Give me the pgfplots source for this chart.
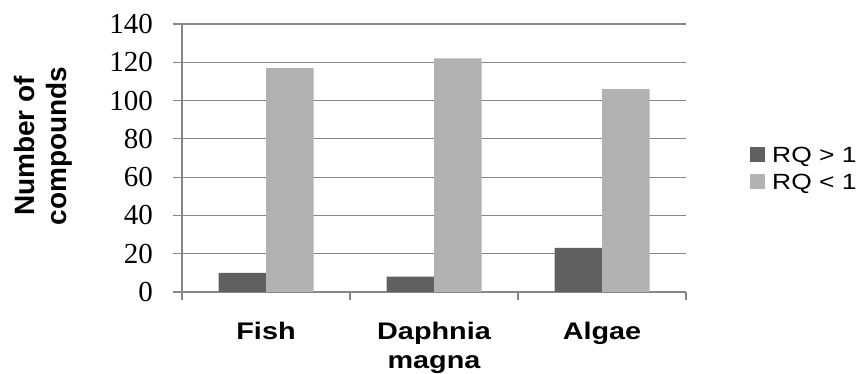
\documentclass[border=0pt]{standalone}
\usepackage{fontspec}
\setmainfont{Liberation Serif}
\newfontfamily\sansx[FakeStretch=1.2]{Liberation Sans}
\newfontfamily\sanslab{Liberation Sans}
\usepackage{pgfplots}
\pgfplotsset{compat=1.18}
\definecolor{darkbar}{HTML}{606060}
\definecolor{lightbar}{HTML}{B2B2B2}
\definecolor{gridc}{HTML}{868686}
\begin{document}
\begin{tikzpicture}
\path[use as bounding box] (0,0) rectangle (864pt,374pt);
\begin{axis}[
  at={(182pt,82pt)}, anchor=south west,
  scale only axis, width=504pt, height=268pt,
  ymin=0, ymax=140, ytick={0,20,...,140},
  xmin=-0.5, xmax=2.5, xtick={0,1,2},
  xticklabels={Fish,{Daphnia\\magna},Algae},
  minor xtick={-0.5,0.5,1.5,2.5},
  major x tick style={draw=none},
  tick align=outside,
  major tick length=9pt, minor tick length=8pt,
  tick style={gridc, line width=1.2pt},
  axis x line*=bottom, axis y line*=left,
  axis line style={gridc, line width=1.2pt, -},
  ymajorgrids, major grid style={gridc, line width=1.2pt},
  /pgf/number format/assume math mode=true,
  yticklabel style={font=\fontsize{29}{29}\selectfont, inner sep=0pt, xshift=-20pt},
  xticklabel style={font=\sansx\bfseries\fontsize{24}{29}\selectfont, align=center, anchor=north, inner sep=0pt, yshift=-21pt},
  ylabel={Number of\\[3pt]compounds},
  ylabel style={font=\sanslab\bfseries\fontsize{28}{29}\selectfont, align=center, at={(axis description cs:-0.275,0.545)}, anchor=center},
  ybar, bar width=47.5pt,
  legend style={draw=none, at={(axis description cs:1.127,0.4534)}, anchor=west,
    font=\sansx\fontsize{22}{22}\selectfont, inner sep=0pt,
    nodes={inner sep=0pt, text height=16pt, text depth=5pt},
    row sep=6pt, column sep=7pt},
  legend cell align=left,
  legend image code/.code={\fill[#1] (0pt,-5.5pt) rectangle (15pt,9.5pt);},
]
\addplot[fill=darkbar, draw=none, bar shift=-23.75pt] coordinates {(0,10) (1,8) (2,23)};
\addplot[fill=lightbar, draw=none, bar shift=23.75pt] coordinates {(0,117) (1,122) (2,106)};
\legend{RQ > 1, RQ < 1}
\end{axis}
\end{tikzpicture}
\end{document}
